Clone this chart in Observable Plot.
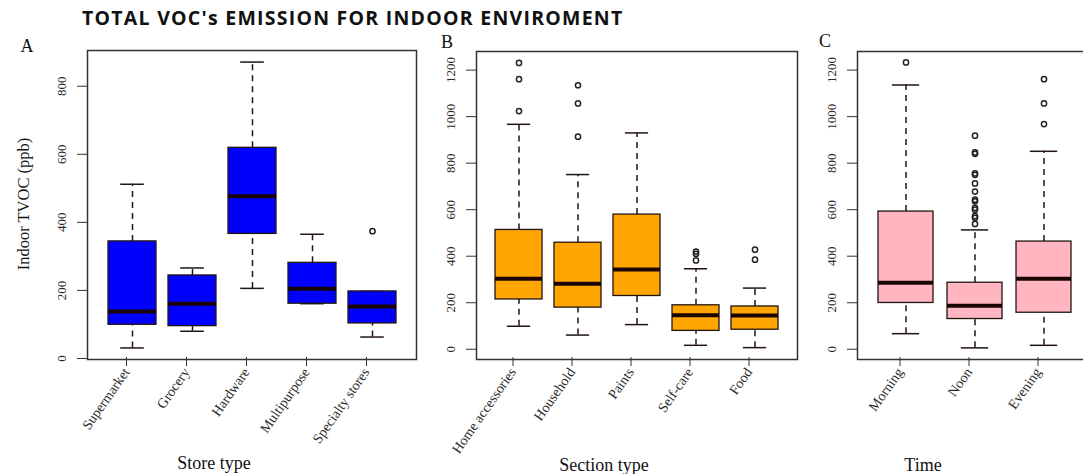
<!DOCTYPE html>
<html>
<head>
<meta charset="utf-8">
<script src="https://cdn.jsdelivr.net/npm/d3@7"></script>
<script src="https://cdn.jsdelivr.net/npm/@observablehq/plot@0.6"></script>
<style>
  html, body { margin: 0; padding: 0; background: #fff; }
  #wrap { position: relative; width: 1083px; height: 474px; overflow: hidden; background: #fff; }
  .abs { position: absolute; }
  .serif { font-family: "Liberation Serif", "Times New Roman", serif; color: #111; white-space: nowrap; line-height: 1; }
  #title { left: 82px; top: 8px; font-family: "Open Sans", "Noto Sans", sans-serif; font-weight: 700; font-size: 19.5px; letter-spacing: 1.25px; color: #111; white-space: nowrap; line-height: 1; }
  .ctr { transform: translate(-50%, -50%); }
  .letter { font-size: 18px; line-height: 0.8; }
  .xt { font-size: 18px; }
  #ylab { left: 24px; top: 204px; font-size: 16.5px; transform: translate(-50%, -50%) rotate(-90deg); }
</style>
</head>
<body>
<div id="wrap">
  <div id="panelA" class="abs" style="left:0px;top:0px;width:420px;"></div>
  <div id="panelB" class="abs" style="left:420px;top:0px;width:381px;"></div>
  <div id="panelC" class="abs" style="left:801px;top:0px;width:295px;"></div>
  <div id="title" class="abs">TOTAL VOC's EMISSION FOR INDOOR ENVIROMENT</div>
  <div class="abs serif ctr letter" style="left:27px;top:46px;">A</div>
  <div class="abs serif ctr letter" style="left:447px;top:42px;">B</div>
  <div class="abs serif ctr letter" style="left:825px;top:41px;">C</div>
  <div id="ylab" class="abs serif">Indoor TVOC (ppb)</div>
  <div class="abs serif ctr xt" style="left:214px;top:463px;">Store type</div>
  <div class="abs serif ctr xt" style="left:604px;top:465px;">Section type</div>
  <div class="abs serif ctr xt" style="left:923px;top:465px;">Time</div>
</div>
<script>
// ---- Panel A: store type ----
const storeTypes   = ["Supermarket", "Grocery", "Hardware", "Multipurpose", "Specialty stores"];
const storeLow     = [31, 80, 206, 161, 63];
const storeQ1      = [99, 95, 366, 161, 103];
const storeMedian  = [138, 161, 477, 205, 153];
const storeQ3      = [344, 244, 619, 281, 197];
const storeHigh    = [512, 266, 871, 365, 197];
const storeOutCat  = ["Specialty stores"];
const storeOutVal  = [374];
const storeTicks   = [0, 200, 400, 600, 800];

// ---- Panel B: section type ----
const sectionTypes  = ["Home accessories", "Household", "Paints", "Self-care", "Food"];
const sectionLow    = [99, 61, 106, 17, 7];
const sectionQ1     = [214, 179, 229, 79, 84];
const sectionMedian = [303, 282, 343, 146, 145];
const sectionQ3     = [513, 458, 579, 189, 184];
const sectionHigh   = [967, 751, 930, 346, 263];
const sectionOutCat = ["Home accessories", "Home accessories", "Home accessories",
                       "Household", "Household", "Household",
                       "Self-care", "Self-care", "Self-care",
                       "Food", "Food"];
const sectionOutVal = [1231, 1161, 1024, 1135, 1057, 914, 420, 410, 382, 428, 385];
const sectionTicks  = [0, 200, 400, 600, 800, 1000, 1200];

// ---- Panel C: time ----
const times      = ["Morning", "Noon", "Evening"];
const timeLow    = [67, 6, 17];
const timeQ1     = [199, 130, 157];
const timeMedian = [286, 187, 303];
const timeQ3     = [592, 286, 463];
const timeHigh   = [1136, 513, 851];
const timeOutCat = ["Morning",
                    "Noon", "Noon", "Noon", "Noon", "Noon", "Noon", "Noon", "Noon", "Noon", "Noon", "Noon", "Noon", "Noon", "Noon",
                    "Evening", "Evening", "Evening"];
const timeOutVal = [1233,
                    918, 846, 840, 756, 750, 713, 678, 643, 636, 608, 600, 572, 565, 539,
                    1161, 1057, 968];
const timeTicks  = [0, 200, 400, 600, 800, 1000, 1200];

function panel({cats, low, q1, med, q3, high, outCat, outVal, fill, domain, ticks, width, mLeft, mTop}) {
  const boxes = cats.map((c, i) => ({cat: c, low: low[i], q1: q1[i], med: med[i], q3: q3[i], high: high[i]}));
  const outs = outCat.map((c, i) => ({cat: c, v: outVal[i]}));
  const mRight = 4;
  const step = (width - mLeft - mRight) / (cats.length + 0.4);
  const capInset = step * 0.2;
  const dark = "#221510";
  return Plot.plot({
    width, height: 474,
    marginLeft: mLeft, marginRight: mRight, marginTop: mTop, marginBottom: 115,
    style: {fontFamily: "'Liberation Serif', 'Times New Roman', serif", background: "transparent", color: "#2a2a2a", overflow: "visible", maxWidth: "none"},
    x: {type: "band", domain: cats, paddingInner: 0.2, paddingOuter: 0.3, label: null},
    y: {domain, label: null},
    marks: [
      Plot.ruleX(boxes, {x: "cat", y1: "q3", y2: "high", stroke: dark, strokeWidth: 1.5, strokeDasharray: "6,5"}),
      Plot.ruleX(boxes, {x: "cat", y1: "low", y2: "q1", stroke: dark, strokeWidth: 1.5, strokeDasharray: "6,5"}),
      Plot.tickY(boxes, {x: "cat", y: "high", insetLeft: capInset, insetRight: capInset, stroke: dark, strokeWidth: 1.5}),
      Plot.tickY(boxes, {x: "cat", y: "low", insetLeft: capInset, insetRight: capInset, stroke: dark, strokeWidth: 1.5}),
      Plot.barY(boxes, {x: "cat", y1: "q1", y2: "q3", fill, stroke: dark, strokeWidth: 1.3}),
      Plot.tickY(boxes, {x: "cat", y: "med", stroke: "#1a0505", strokeWidth: 4}),
      Plot.dot(outs, {x: "cat", y: "v", r: 2.6, stroke: "#222", strokeWidth: 1.5, fill: "none"}),
      Plot.frame({stroke: "#333", strokeWidth: 1.5}),
      Plot.axisY({ticks, tickFormat: d3.format("d"), tickSize: 10, tickRotate: -90, tickPadding: 12, fontSize: 13, stroke: "#333"}),
      Plot.axisX({tickSize: 9, tickRotate: -55, tickPadding: 3, fontSize: 14, stroke: "#333", textStroke: "none", dx: -6, dy: -2})
    ]
  });
}

document.getElementById("panelA").append(panel({
  cats: storeTypes, low: storeLow, q1: storeQ1, med: storeMedian, q3: storeQ3, high: storeHigh,
  outCat: storeOutCat, outVal: storeOutVal, fill: "#0000ff", domain: [-3, 905], ticks: storeTicks,
  width: 420, mLeft: 87, mTop: 50
}));
document.getElementById("panelB").append(panel({
  cats: sectionTypes, low: sectionLow, q1: sectionQ1, med: sectionMedian, q3: sectionQ3, high: sectionHigh,
  outCat: sectionOutCat, outVal: sectionOutVal, fill: "#ffa500", domain: [-44, 1280], ticks: sectionTicks,
  width: 381, mLeft: 56, mTop: 51
}));
document.getElementById("panelC").append(panel({
  cats: times, low: timeLow, q1: timeQ1, med: timeMedian, q3: timeQ3, high: timeHigh,
  outCat: timeOutCat, outVal: timeOutVal, fill: "#ffb6c1", domain: [-44, 1280], ticks: timeTicks,
  width: 295, mLeft: 56, mTop: 51
}));
</script>
</body>
</html>
